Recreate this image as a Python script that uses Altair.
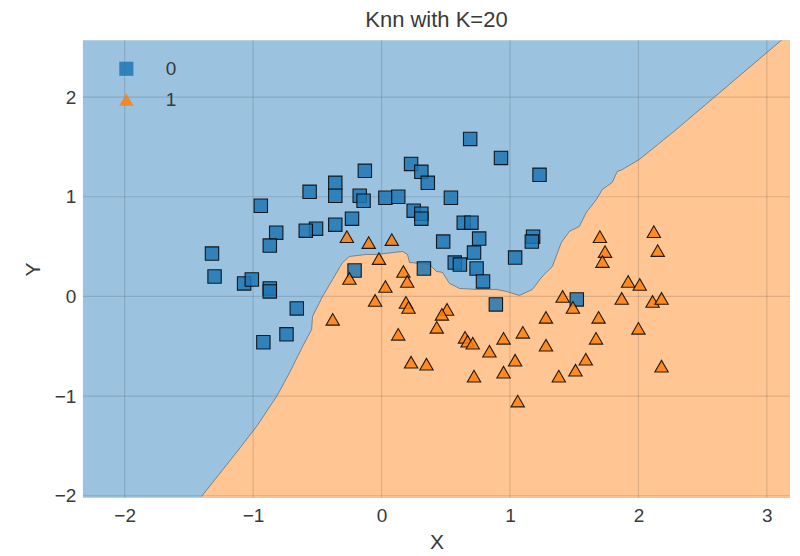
import altair as alt
import pandas as pd

# Axis ranges (data units)
X_MIN, X_MAX = -2.325, 3.18
Y_MIN, Y_MAX = -2.02, 2.57

x_ticks = [-2, -1, 0, 1, 2, 3]
y_ticks = [-2, -1, 0, 1, 2]

# class 0 (blue squares)
c0_x = [-0.13, -0.36, -0.36, -0.56, -0.17, -0.14, 0.03, 0.13, -0.94, -0.23,
        -0.36, -0.51, -0.59, -0.82, -0.87, -1.32, -1.30, -1.07, -1.01, -0.87,
        -0.87, -0.66, -0.74, -0.92, -0.21, 0.69, 0.93, 1.23, 0.23, 0.31,
        0.36, 0.54, 0.25, 0.31, 0.31, 0.64, 0.70, 0.48, 0.76, 0.72,
        1.18, 1.17, 1.04, 0.57, 0.61, 0.74, 0.79, 0.33, 0.89, 1.52]
c0_y = [1.26, 1.14, 1.01, 1.05, 1.01, 0.96, 0.99, 1.00, 0.91, 0.78,
        0.72, 0.68, 0.66, 0.64, 0.51, 0.43, 0.20, 0.13, 0.17, 0.08,
        0.05, -0.12, -0.38, -0.46, 0.26, 1.58, 1.39, 1.22, 1.33, 1.25,
        1.14, 0.99, 0.86, 0.83, 0.78, 0.74, 0.74, 0.55, 0.58, 0.44,
        0.60, 0.55, 0.39, 0.34, 0.32, 0.28, 0.15, 0.28, -0.08, -0.03]

# class 1 (orange triangles)
c1_x = [-0.27, -0.10, 0.08, -0.02, -0.25, 0.17, 0.20, 0.03, -0.05, -0.38,
        0.19, 0.21, 0.51, 0.47, 0.43, 0.13, 0.65, 0.67, 0.71, 0.84,
        0.95, 1.10, 1.28, 1.28, 1.04, 0.95, 0.72, 1.06, 0.23, 0.35,
        1.41, 1.49, 1.69, 1.87, 2.11, 2.18, 2.00, 1.92, 2.01, 1.67,
        1.59, 1.51, 1.38, 2.18, 2.12, 2.15, 1.70, 1.74, 1.72]
c1_y = [0.60, 0.54, 0.57, 0.38, 0.18, 0.25, 0.15, 0.10, -0.04, -0.23,
        -0.06, -0.11, -0.13, -0.18, -0.31, -0.38, -0.41, -0.45, -0.47, -0.55,
        -0.42, -0.36, -0.21, -0.49, -0.64, -0.76, -0.80, -1.05, -0.66, -0.68,
        0.00, -0.11, -0.21, -0.02, -0.05, -0.02, -0.32, 0.15, 0.12, -0.42,
        -0.63, -0.74, -0.80, -0.70, 0.65, 0.46, 0.60, 0.45, 0.35]

# decision boundary (class 1 region lies below it)
bd_x = [-1.400, -1.128, -0.972, -0.816, -0.715, -0.653, -0.614, -0.544, -0.537,
        -0.459, -0.381, -0.303, -0.249, -0.117, -0.039, 0.163, 0.202, 0.218,
        0.373, 0.428, 0.474, 0.529, 0.607, 0.739, 0.894, 0.972, 1.073, 1.174,
        1.252, 1.330, 1.400, 1.462, 1.540, 1.594, 1.672, 1.719, 1.796, 1.835,
        1.874, 2.006, 2.294, 3.118, 3.18]
bd_y = [-2.005, -1.564, -1.303, -1.003, -0.762, -0.602, -0.501, -0.331, -0.200,
        0.000, 0.170, 0.341, 0.401, 0.421, 0.421, 0.451, 0.421, 0.341,
        0.321, 0.251, 0.241, 0.130, 0.080, 0.070, 0.070, 0.050, 0.010, 0.070,
        0.201, 0.301, 0.541, 0.652, 0.702, 0.842, 0.972, 1.073, 1.143, 1.253,
        1.273, 1.373, 1.674, 2.576, 2.60]

BLUE = "#1f77b4"
ORANGE = "#ff7f0e"
BLUE_FILL = "#9bc2de"
ORANGE_FILL = "#ffc592"
TEXT = "#3a3a3a"
FONT = "Liberation Sans"

xs = alt.Scale(domain=[X_MIN, X_MAX], nice=False, zero=False)
ys = alt.Scale(domain=[Y_MIN, Y_MAX], nice=False, zero=False)

x_axis = alt.Axis(values=x_ticks, format="d", title="X", grid=False, domain=False,
                  ticks=False, labelPadding=9, titlePadding=6)
y_axis = alt.Axis(values=y_ticks, format="d", title="Y", grid=False, domain=False,
                  ticks=False, labelPadding=7, titlePadding=11)

bd_df = pd.DataFrame({"x": bd_x, "y": bd_y, "y0": [Y_MIN] * len(bd_x)})

region = alt.Chart(bd_df).mark_area(color=ORANGE_FILL, opacity=1, clip=True).encode(
    x=alt.X("x:Q", scale=xs, axis=x_axis),
    y=alt.Y("y:Q", scale=ys, axis=y_axis),
    y2="y0:Q",
)

edge = alt.Chart(bd_df).mark_line(color="#4a4a4a", strokeWidth=1, opacity=0.55, clip=True).encode(
    x=alt.X("x:Q", scale=xs),
    y=alt.Y("y:Q", scale=ys),
)

vgrid = alt.Chart(pd.DataFrame({"v": x_ticks})).mark_rule(
    color="black", opacity=0.12, strokeWidth=1.2).encode(x=alt.X("v:Q", scale=xs))
hgrid = alt.Chart(pd.DataFrame({"v": y_ticks})).mark_rule(
    color="black", opacity=0.12, strokeWidth=1.2).encode(y=alt.Y("v:Q", scale=ys))

pts = pd.DataFrame({
    "x": c0_x + c1_x,
    "y": c0_y + c1_y,
    "label": ["0"] * len(c0_x) + ["1"] * len(c1_x),
})

legend = alt.Legend(orient="none", legendX=34, legendY=19, title=None,
                    symbolSize=200, labelFontSize=19, labelFont=FONT,
                    labelColor=TEXT, labelOffset=30, rowPadding=11,
                    padding=0, symbolStrokeColor="black",
                    symbolStrokeWidth=1, symbolOpacity=0.85)

points = alt.Chart(pts).mark_point(
    filled=True, size=180, fillOpacity=0.85, stroke="black", strokeWidth=1.1, strokeOpacity=0.85
).encode(
    x=alt.X("x:Q", scale=xs),
    y=alt.Y("y:Q", scale=ys),
    color=alt.Color("label:N", scale=alt.Scale(domain=["0", "1"], range=[BLUE, ORANGE]),
                    legend=legend),
    shape=alt.Shape("label:N", scale=alt.Scale(domain=["0", "1"], range=["square", "triangle-up"]),
                    legend=legend),
)

chart = alt.layer(region, vgrid, hgrid, edge, points).properties(
    width=708,
    height=458,
    title=alt.TitleParams("Knn with K=20", fontSize=22, font=FONT, fontWeight="normal",
                          color=TEXT, offset=8, frame="group", anchor="middle"),
    autosize=alt.AutoSizeParams(type="none"),
    padding={"left": 75, "top": 32, "right": 2, "bottom": 56},
).configure_view(
    fill=BLUE_FILL, strokeWidth=0
).configure_axis(
    labelFont=FONT, labelFontSize=19, labelColor=TEXT,
    titleFont=FONT, titleFontSize=21, titleFontWeight="normal", titleColor=TEXT,
)

chart.save("out.html", embed_options={"renderer": "svg", "actions": False})
